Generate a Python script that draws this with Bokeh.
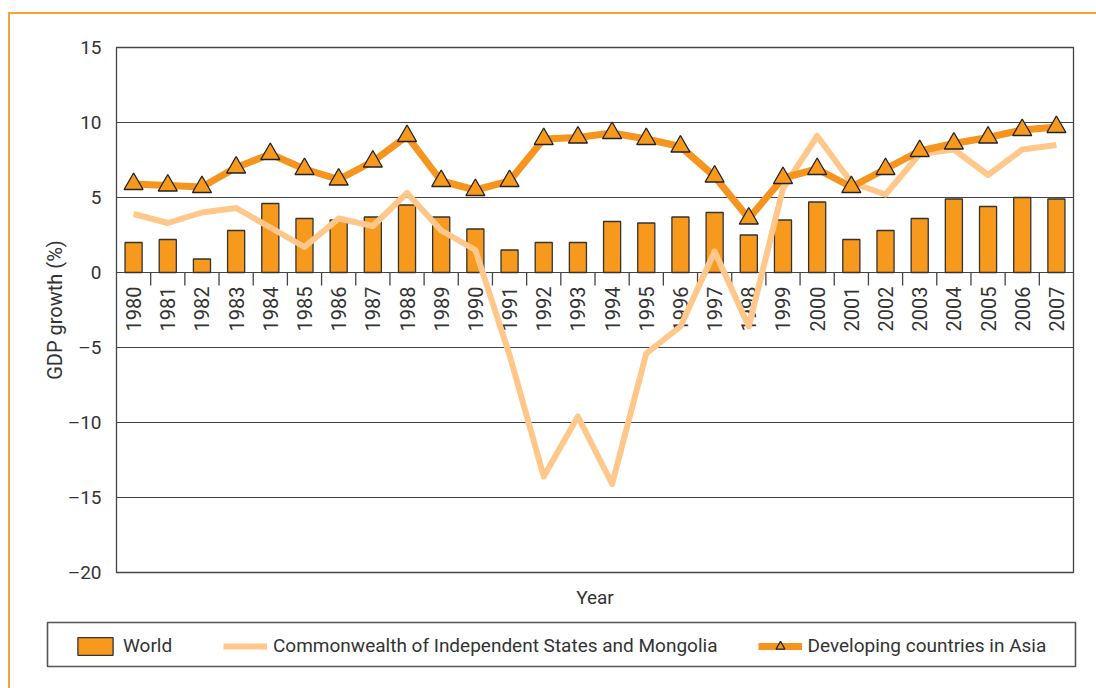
import math
from bokeh.plotting import figure
from bokeh.layouts import column
from bokeh.models import Range1d, FixedTicker, Legend, LegendItem
from bokeh.core.properties import value
from bokeh.embed import file_html
from bokeh.resources import INLINE

# ---- data -------------------------------------------------------------
years = [str(y) for y in range(1980, 2008)]
world = [2.0, 2.2, 0.9, 2.8, 4.6, 3.6, 3.5, 3.7, 4.5, 3.7,
         2.9, 1.5, 2.0, 2.0, 3.4, 3.3, 3.7, 4.0, 2.5, 3.5,
         4.7, 2.2, 2.8, 3.6, 4.9, 4.4, 5.0, 4.9]
cis = [3.9, 3.3, 4.0, 4.3, 3.0, 1.7, 3.6, 3.1, 5.3, 2.8,
       1.5, -5.5, -13.6, -9.6, -14.1, -5.4, -3.6, 1.4, -3.6, 5.6,
       9.1, 6.0, 5.2, 7.9, 8.2, 6.5, 8.2, 8.5]
asia = [5.9, 5.8, 5.7, 7.0, 7.9, 6.9, 6.2, 7.4, 9.1, 6.1,
        5.5, 6.1, 8.9, 9.0, 9.3, 8.9, 8.4, 6.4, 3.6, 6.3,
        6.9, 5.7, 6.9, 8.1, 8.6, 9.0, 9.5, 9.7]
y_ticks = [-20, -15, -10, -5, 0, 5, 10, 15]
y_tick_labels = {t: (("\u2013" + str(-t)) if t < 0 else str(t)) for t in y_ticks}
series_names = ["World", "Commonwealth of Independent States and Mongolia",
                "Developing countries in Asia"]

# ---- styling -----------------------------------------------------------
FONT = value("Roboto")
TXT = "#333333"
DARK = "#444444"
BAR = "#F7991C"
ASIA = "#F7941D"
CIS = "#FFC88A"
OF = "#F7A13A"

n = len(years)
xs = [i + 0.5 for i in range(n)]
bounds = list(range(1, n))

# ---- main chart ------------------------------------------------------
p = figure(width=1096, height=612,
           x_range=Range1d(0, n), y_range=Range1d(y_ticks[0], y_ticks[-1]),
           output_backend="svg", toolbar_location=None,
           min_border_left=116, min_border_right=23,
           min_border_top=47, min_border_bottom=40)
p.frame_align = False
p.border_fill_color = None
p.background_fill_color = "white"
p.styles = {
    "background": (f"linear-gradient({OF},{OF}) 8px 12px / 100% 2px no-repeat, "
                   f"linear-gradient({OF},{OF}) 8px 12px / 2px 100% no-repeat, white"),
}

p.outline_line_color = DARK
p.outline_line_width = 1.3

p.xgrid.visible = False
p.ygrid.ticker = FixedTicker(ticks=y_ticks)
p.ygrid.grid_line_color = DARK
p.ygrid.grid_line_width = 1.2

# y axis
p.yaxis.ticker = FixedTicker(ticks=y_ticks)
p.yaxis.major_label_overrides = y_tick_labels
p.yaxis.axis_line_color = None
p.yaxis.major_tick_line_color = None
p.yaxis.minor_tick_line_color = None
p.yaxis.major_tick_out = 0
p.yaxis.minor_tick_out = 0
p.yaxis.major_label_standoff = 15
p.yaxis.major_label_text_font = "Roboto"
p.yaxis.major_label_text_font_size = "19px"
p.yaxis.major_label_text_color = TXT
p.yaxis.axis_label = "GDP growth (%)"
p.yaxis.axis_label_text_font = "Roboto"
p.yaxis.axis_label_text_font_size = "20px"
p.yaxis.axis_label_text_font_style = "normal"
p.yaxis.axis_label_text_color = TXT
p.yaxis.axis_label_standoff = -2

# x axis (only its title; the year labels sit on the zero line)
p.xaxis.ticker = FixedTicker(ticks=[])
p.xaxis.axis_line_color = None
p.xaxis.major_tick_line_color = None
p.xaxis.minor_tick_line_color = None
p.xaxis.major_tick_out = 0
p.xaxis.minor_tick_out = 0
p.xaxis.major_label_standoff = 0
p.xaxis.axis_label = "Year"
p.xaxis.axis_label_text_font = "Roboto"
p.xaxis.axis_label_text_font_size = "19px"
p.xaxis.axis_label_text_font_style = "normal"
p.xaxis.axis_label_text_color = TXT
p.xaxis.axis_label_standoff = 13

bars = p.vbar(x=xs, top=world, bottom=0, width=0.5,
              fill_color=BAR, line_color="#333333", line_width=1.3)

p.segment(x0=bounds, y0=[0] * len(bounds), x1=bounds, y1=[-0.87] * len(bounds),
          line_color=DARK, line_width=1.3)

p.text(x=xs, y=[0] * n, text=years, angle=math.pi / 2,
       text_align="right", text_baseline="middle", y_offset=14,
       text_font=FONT, text_font_size="20px", text_color=TXT)

cis_r = p.line(xs, cis, line_color=CIS, line_width=6, line_join="round")
asia_line = p.line(xs, asia, line_color=ASIA, line_width=7, line_join="round")
asia_pts = p.scatter(xs, asia, marker="triangle", size=19,
                     fill_color=BAR, line_color="#222222", line_width=1.3)

# ---- legend strip (its frame is the legend box) ---------------------
lf = figure(width=1096, height=76, x_range=Range1d(0, 1), y_range=Range1d(0, 1),
            output_backend="svg", toolbar_location=None,
            x_axis_location=None, y_axis_location=None,
            min_border_left=47, min_border_right=21,
            min_border_top=10, min_border_bottom=22)
lf.frame_align = False
lf.grid.visible = False
lf.border_fill_color = None
lf.background_fill_color = "white"
lf.outline_line_color = "#555555"
lf.outline_line_width = 1.6
lf.styles = {
    "background": f"linear-gradient({OF},{OF}) 8px 0 / 2px 100% no-repeat, white",
}
# swatch renderers: one point each, kept outside the visible range
off = [-5]
l_bar = lf.vbar(x=off, top=off, bottom=[-6], width=0.5,
                fill_color=BAR, line_color="#333333", line_width=1.3)
l_cis = lf.line(x=[-6, -5], y=off * 2, line_color=CIS, line_width=6)
l_asia = lf.line(x=[-6, -5], y=off * 2, line_color=ASIA, line_width=7)
l_pts = lf.scatter(x=off, y=off, marker="triangle", size=18, fill_color=BAR,
                   line_color="#222222", line_width=1.3)

legend = Legend(items=[
    LegendItem(label=series_names[0], renderers=[l_bar]),
    LegendItem(label=series_names[1], renderers=[l_cis]),
    LegendItem(label=series_names[2], renderers=[l_asia, l_pts]),
], orientation="horizontal", location=(26, 9),
    glyph_width=44, glyph_height=22, label_standoff=6, spacing=40,
    label_width=60,
    padding=0, margin=0, border_line_color=None, background_fill_alpha=0,
    label_text_font="Roboto", label_text_font_size="19px", label_text_color=TXT)
lf.add_layout(legend, "center")

layout = column(p, lf, spacing=0)
open("out.html", "w").write(file_html(layout, INLINE))
